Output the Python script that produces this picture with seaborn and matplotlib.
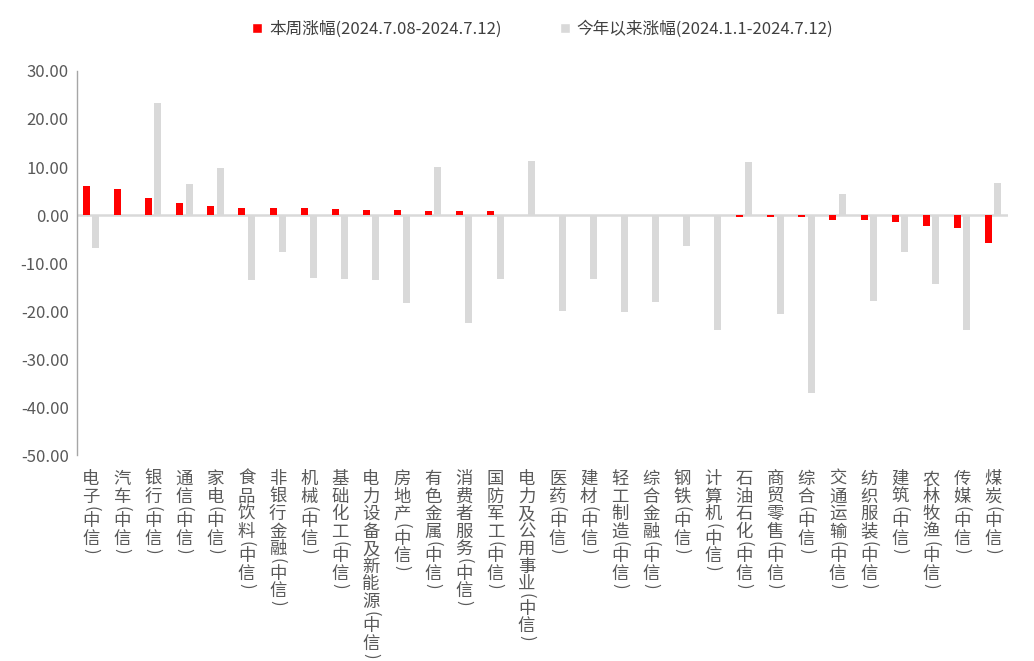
import matplotlib
matplotlib.use("Agg")
import matplotlib.pyplot as plt
import matplotlib.transforms as mtransforms
from matplotlib.patches import Patch
import seaborn as sns
import pandas as pd

categories = ["电子(中信)", "汽车(中信)", "银行(中信)", "通信(中信)", "家电(中信)",
              "食品饮料(中信)", "非银行金融(中信)", "机械(中信)", "基础化工(中信)",
              "电力设备及新能源(中信)", "房地产(中信)", "有色金属(中信)", "消费者服务(中信)",
              "国防军工(中信)", "电力及公用事业(中信)", "医药(中信)", "建材(中信)",
              "轻工制造(中信)", "综合金融(中信)", "钢铁(中信)", "计算机(中信)",
              "石油石化(中信)", "商贸零售(中信)", "综合(中信)", "交通运输(中信)",
              "纺织服装(中信)", "建筑(中信)", "农林牧渔(中信)", "传媒(中信)", "煤炭(中信)"]
week_change = [6.0, 5.5, 3.5, 2.6, 1.9, 1.5, 1.5, 1.5, 1.3, 1.1, 1.1, 0.9, 0.9, 0.9,
               0.08, 0.05, 0.03, 0.02, 0.0, -0.02, -0.05, -0.4, -0.45, -0.5, -1.1,
               -1.1, -1.5, -2.3, -2.8, -5.8]
ytd_change = [-6.9, 0.1, 23.3, 6.4, 9.8, -13.6, -7.8, -13.1, -13.4, -13.6, -18.3, 9.9,
              -22.5, -13.4, 11.3, -19.9, -13.4, -20.3, -18.1, -6.5, -24.0, 11.1, -20.6,
              -37.0, 4.4, -17.9, -7.8, -14.4, -24.0, 6.6]
series_names = ["本周涨幅(2024.7.08-2024.7.12)", "今年以来涨幅(2024.1.1-2024.7.12)"]
yticks = [-50, -40, -30, -20, -10, 0, 10, 20, 30]

sns.set_style("white")
plt.rcParams["font.family"] = ["Noto Sans CJK SC", "DejaVu Sans"]

df = pd.DataFrame({
    "cat": categories * 2,
    "val": week_change + ytd_change,
    "series": [series_names[0]] * len(categories) + [series_names[1]] * len(categories),
})

fig = plt.figure(figsize=(10.34, 6.61), dpi=100)
ax = fig.add_axes([0.0745, 0.3116, 0.9004, 0.581])

colors = ["#FF0000", "#D9D9D9"]
sns.barplot(data=df, x="cat", y="val", hue="series", palette=colors, ax=ax,
            width=0.6, gap=0.25, order=categories, hue_order=series_names,
            legend=False, saturation=1, linewidth=0)

ax.set_ylim(-50, 30)
ax.set_xlim(-0.45, len(categories) - 1 + 0.48)
ax.set_yticks(yticks)
ax.set_yticklabels([f"{v:.2f}" for v in yticks], fontsize=12, color="#595959")
ax.tick_params(axis="y", direction="in", length=4, color="#A6A6A6", width=1, pad=6)
ax.set_xticks(range(len(categories)))
ax.set_xticklabels([])
ax.tick_params(axis="x", length=0)
ax.set_xlabel("")
ax.set_ylabel("")
for s in ["top", "right", "bottom"]:
    ax.spines[s].set_visible(False)
ax.spines["left"].set_color("#A6A6A6")
ax.spines["left"].set_linewidth(1)
ax.axhline(0, color="#D9D9D9", lw=1.8, zorder=0.5)

# vertical (stacked) category labels
trans = mtransforms.blended_transform_factory(ax.transData, ax.transAxes)
for i, lab in enumerate(categories):
    off = -10.8
    for ch in lab:
        if ch in "()":
            t = mtransforms.offset_copy(trans, fig=fig, x=0, y=off - 0.5, units="points")
            ax.text(i, 0, ch, transform=t, ha="center", va="top", rotation=-90,
                    fontsize=12, color="#595959", clip_on=False)
            off -= 5.2
        else:
            t = mtransforms.offset_copy(trans, fig=fig, x=0, y=off, units="points")
            ax.text(i, 0, ch, transform=t, ha="center", va="top",
                    fontsize=12.5, color="#595959", clip_on=False)
            off -= 12.6

handles = [Patch(facecolor=colors[0]), Patch(facecolor=colors[1])]
fig.legend(handles, series_names, loc="center", bbox_to_anchor=(0.525, 0.956),
           ncol=2, frameon=False, fontsize=12, handlelength=0.6, handleheight=0.6,
           handletextpad=0.4, columnspacing=3.5, labelcolor="#404040")

fig.savefig("out.png", dpi=100)
